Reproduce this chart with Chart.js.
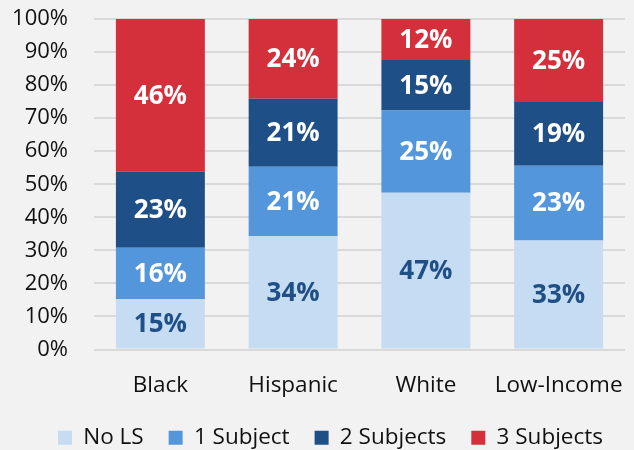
<!DOCTYPE html>
<html>
<head>
<meta charset="utf-8">
<script src="https://cdn.jsdelivr.net/npm/chart.js@4"></script>
<style>
  html, body { margin: 0; padding: 0; background: #f2f2f2; }
  #wrap { width: 634px; height: 450px; }
</style>
</head>
<body>
<div id="wrap"><canvas id="chart"></canvas></div>
<script>
const groups = ["Black", "Hispanic", "White", "Low-Income"];
const tickLabels = ["0%", "10%", "20%", "30%", "40%", "50%", "60%", "70%", "80%", "90%", "100%"];

const noLs = [15.2, 34.3, 47.4, 33.0];
const oneSubject = [15.6, 21.0, 24.9, 22.6];
const twoSubjects = [23.0, 20.6, 15.3, 19.3];
const threeSubjects = [46.2, 24.1, 12.4, 25.1];

const seriesNames = ["No LS", "1 Subject", "2 Subjects", "3 Subjects"];
const seriesColors = ["#c5dcf2", "#5396dc", "#1f4f87", "#d3303c"];
const labelColors = ["#1f4f87", "#ffffff", "#ffffff", "#ffffff"];

const fontFamily = "'Open Sans', 'Noto Sans', sans-serif";

// draws the rounded percentage in the middle of each stacked segment
const segmentLabels = {
  id: "segmentLabels",
  afterDatasetsDraw(chart) {
    const ctx = chart.ctx;
    ctx.save();
    ctx.font = `bold 26px ${fontFamily}`;
    ctx.textAlign = "center";
    ctx.textBaseline = "middle";
    chart.data.datasets.forEach((ds, i) => {
      const meta = chart.getDatasetMeta(i);
      if (meta.hidden) return;
      meta.data.forEach((bar, j) => {
        ctx.fillStyle = labelColors[i];
        ctx.fillText(Math.round(ds.data[j]) + "%", bar.x, (bar.y + bar.base) / 2 + 1);
      });
    });
    ctx.restore();
  },
};

// legend in the original sits a little right of the canvas centre
const legendNudge = {
  id: "legendNudge",
  afterLayout(chart) {
    chart.legend.left += 18;
    chart.legend.right += 18;
  },
};

const datasets = [noLs, oneSubject, twoSubjects, threeSubjects].map((values, i) => ({
  label: seriesNames[i],
  data: values,
  backgroundColor: seriesColors[i],
  borderWidth: 0,
  categoryPercentage: 1,
  barPercentage: 0.67,
}));

new Chart(document.getElementById("chart"), {
  type: "bar",
  data: { labels: groups, datasets },
  plugins: [segmentLabels, legendNudge],
  options: {
    responsive: true,
    maintainAspectRatio: false,
    animation: false,
    layout: { padding: { top: 19, right: 9, left: 0, bottom: -9 } },
    plugins: {
      tooltip: { enabled: false },
      legend: {
        position: "bottom",
        labels: {
          color: "#111",
          font: { family: fontFamily, size: 22.5 },
          boxWidth: 14,
          boxHeight: 14,
          padding: 25,
        },
      },
    },
    scales: {
      x: {
        stacked: true,
        grid: { display: false },
        border: { display: false },
        afterFit: (axis) => {
          axis.height = 52;
          axis.paddingLeft = 0;
          axis.paddingRight = 0;
        },
        ticks: {
          color: "#111",
          font: { family: fontFamily, size: 22.5 },
          padding: 15,
          maxRotation: 0,
          minRotation: 0,
          autoSkip: false,
        },
      },
      y: {
        stacked: true,
        min: 0,
        max: 100,
        afterFit: (axis) => {
          axis.width = 94;
          axis.paddingTop = 0;
          axis.paddingBottom = 0;
        },
        grid: { color: "#d9d9d9", lineWidth: 2, drawTicks: false },
        border: { display: false },
        ticks: {
          stepSize: 10,
          color: "#111",
          font: { family: fontFamily, size: 22 },
          padding: 26,
          callback: (value) => tickLabels[value / 10],
        },
      },
    },
  },
});
</script>
</body>
</html>
